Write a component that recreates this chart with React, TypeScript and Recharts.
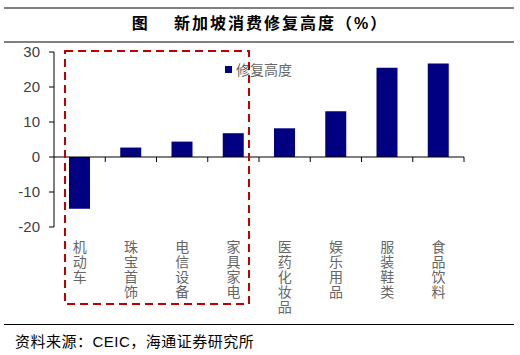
import React from 'react';
import {
  BarChart,
  Bar,
  XAxis,
  YAxis,
  ReferenceLine,
} from 'recharts';

const categories = ['机动车', '珠宝首饰', '电信设备', '家具家电', '医药化妆品', '娱乐用品', '服装鞋类', '食品饮料'];
const recovery = [-14.8, 2.7, 4.4, 6.8, 8.2, 13.1, 25.5, 26.7];
const yTicks = [-20, -10, 0, 10, 20, 30];

const data = categories.map((name, i) => ({ name, value: recovery[i] }));

const CJK = '"Noto Sans CJK SC", sans-serif';
const LATIN = '"Liberation Sans", Arial, sans-serif';

// vertical category label, characters stacked top to bottom
const VerticalTick = (props: any) => {
  const { x, y, payload } = props;
  return (
    <text
      x={x}
      y={y + 13}
      fill="#666"
      fontSize={14}
      fontFamily={CJK}
      letterSpacing={1}
      style={{ writingMode: 'vertical-rl', textOrientation: 'upright' } as any}
    >
      {payload.value}
    </text>
  );
};

// zero line with tick marks between categories
const ZeroAxis = (props: any) => {
  const { x1, y1, x2 } = props;
  const n = categories.length;
  const step = (x2 - x1) / n;
  const ticks = [];
  for (let k = 1; k <= n; k++) {
    const tx = x1 + step * k;
    ticks.push(<line key={k} x1={tx} y1={y1} x2={tx} y2={y1 + 5} stroke="#000" strokeWidth={1} />);
  }
  return (
    <g>
      <line x1={x1} y1={y1} x2={x2} y2={y1} stroke="#000" strokeWidth={1} />
      {ticks}
    </g>
  );
};

const App: React.FC = () => {
  return (
    <div style={{ position: 'absolute', left: 0, top: 0, width: 520, height: 355, background: '#fff' }}>
      <div style={{ position: 'absolute', left: 4, top: 7, width: 510, height: 2, background: '#808080' }} />
      <div
        style={{
          position: 'absolute',
          left: 0,
          top: 10,
          width: 520,
          textAlign: 'center',
          fontFamily: CJK,
          fontWeight: 700,
          fontSize: 16,
          letterSpacing: 2,
          color: '#000',
          lineHeight: '24px',
        }}
      >
        图<span style={{ display: 'inline-block', width: 24 }} />新加坡消费修复高度（<span style={{ fontFamily: LATIN }}>%</span>）
      </div>
      <div style={{ position: 'absolute', left: 4, top: 41, width: 510, height: 2, background: '#808080' }} />

      <div style={{ position: 'absolute', left: 0, top: 0 }}>
        <BarChart
          width={520}
          height={355}
          data={data}
          margin={{ top: 52, right: 56, left: 53, bottom: 127 }}
        >
          <XAxis
            dataKey="name"
            axisLine={false}
            tickLine={false}
            tickSize={0}
            tickMargin={0}
            interval={0}
            height={1}
            tick={<VerticalTick />}
          />
          <YAxis
            domain={[-20, 30]}
            ticks={yTicks}
            width={1}
            axisLine={{ stroke: '#000' }}
            tickLine={{ stroke: '#000' }}
            tickSize={5}
            tickMargin={9}
            tick={{ fill: '#404040', fontSize: 15, fontFamily: LATIN }}
            interval={0}
          />
          <Bar dataKey="value" fill="#000080" barSize={21} isAnimationActive={false} />
          <ReferenceLine y={0} shape={<ZeroAxis />} />
        </BarChart>
      </div>

      {/* legend */}
      <div
        style={{
          position: 'absolute',
          left: 225,
          top: 59,
          display: 'flex',
          alignItems: 'center',
          fontFamily: CJK,
          fontSize: 14,
          color: '#666',
          lineHeight: '20px',
        }}
      >
        <span style={{ display: 'inline-block', width: 7, height: 7, background: '#000080', marginRight: 4 }} />
        <span>修复高度</span>
      </div>

      <svg style={{ position: 'absolute', left: 0, top: 0 }} width={520} height={355}>
        <rect
          x={65}
          y={51}
          width={184}
          height={253}
          fill="none"
          stroke="#C00000"
          strokeWidth={2}
          strokeDasharray="8 5"
        />
      </svg>

      <div style={{ position: 'absolute', left: 4, top: 324, width: 510, height: 1, background: '#000' }} />
      <div
        style={{
          position: 'absolute',
          left: 15,
          top: 331,
          fontFamily: CJK,
          fontSize: 15,
          letterSpacing: 0.5,
          color: '#000',
          lineHeight: '20px',
        }}
      >
        资料来源：<span style={{ fontFamily: LATIN }}>CEIC</span>，海通证券研究所
      </div>
    </div>
  );
};

export default App;
